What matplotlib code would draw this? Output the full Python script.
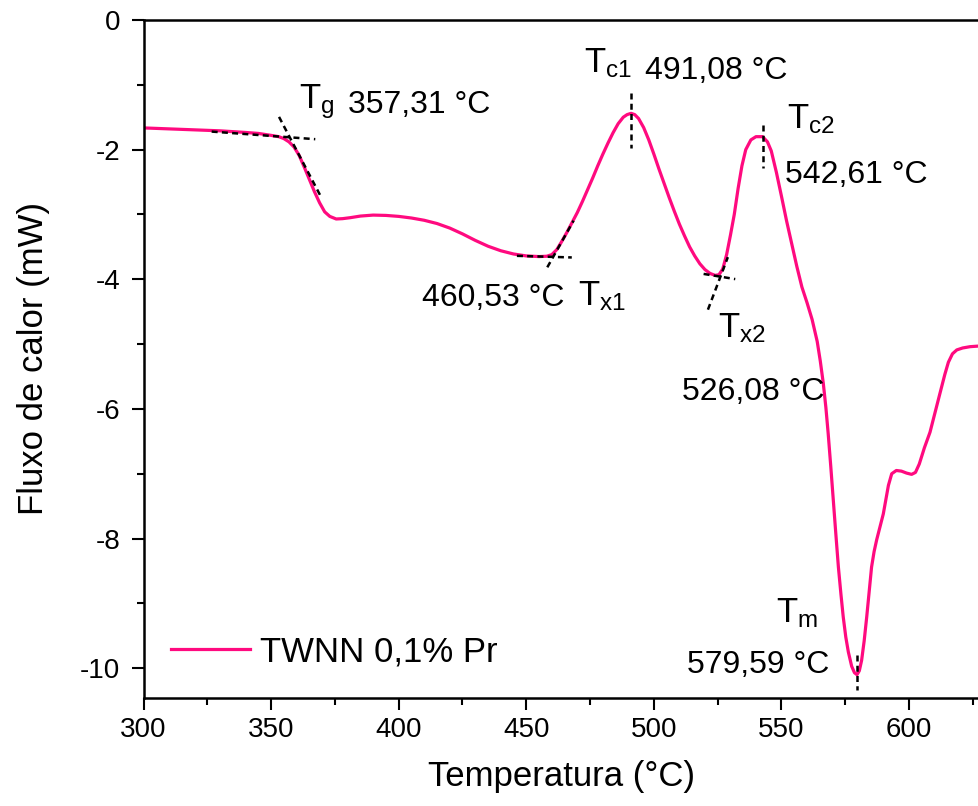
import matplotlib
matplotlib.use("Agg")
import matplotlib.pyplot as plt
from matplotlib.ticker import MultipleLocator

plt.rcParams['font.family'] = ['Liberation Sans', 'DejaVu Sans']
plt.rcParams['mathtext.fontset'] = 'custom'
plt.rcParams['mathtext.rm'] = 'Liberation Sans'

# DSC curve: temperature (°C) and heat flow (mW)
temperature = [
    300.0, 310.0, 320.0, 330.0, 340.0, 345.0, 350.0, 353.0, 355.0, 357.0,
    359.0, 361.0, 363.0, 365.0, 367.0, 369.0, 371.0, 373.0, 375.5, 378.0,
    381.0, 385.0, 390.0, 395.0, 400.0, 405.0, 410.0, 415.0, 420.0, 425.0,
    430.0, 435.0, 440.0, 445.0, 450.0, 455.0, 458.0, 460.0, 462.0, 464.0,
    466.0, 468.0, 470.0, 472.0, 474.0, 476.0, 478.0, 480.0, 482.0, 484.0,
    486.0, 488.0, 489.5, 491.08, 492.5, 494.0, 496.0, 498.0, 500.0, 502.0,
    504.0, 506.0, 508.0, 510.0, 512.0, 514.0, 516.0, 518.0, 520.0, 522.0,
    524.0, 525.5, 527.0, 528.5, 530.0, 531.5, 533.0, 534.5, 536.0, 538.0,
    540.0, 542.61, 544.5, 546.0, 548.0, 550.0, 552.0, 554.0, 556.0, 558.0,
    560.0, 562.0, 564.0, 565.2, 566.4, 567.4, 568.3, 569.3, 570.3, 571.3,
    572.3, 573.3, 574.2, 575.2, 576.2, 577.5, 578.6, 579.59, 580.5, 581.4,
    582.4, 583.4, 584.3, 585.3, 586.3, 587.3, 588.6, 589.9, 591.0, 591.9,
    593.2, 595.0, 597.0, 599.0, 601.0, 602.5, 604.0, 606.0, 608.2, 610.0,
    612.1, 614.0, 615.4, 617.0, 618.7, 621.0, 623.9, 627.4,
]
heat_flow = [
    -1.665, -1.68, -1.695, -1.71, -1.735, -1.75, -1.78, -1.80, -1.83, -1.88,
    -1.96, -2.09, -2.27, -2.46, -2.65, -2.82, -2.96, -3.03, -3.07, -3.065,
    -3.05, -3.025, -3.01, -3.015, -3.03, -3.055, -3.09, -3.14, -3.21, -3.30,
    -3.40, -3.49, -3.56, -3.61, -3.64, -3.65, -3.645, -3.62, -3.54, -3.41,
    -3.27, -3.12, -2.97, -2.80, -2.62, -2.44, -2.25, -2.07, -1.90, -1.74,
    -1.60, -1.50, -1.46, -1.44, -1.46, -1.52, -1.66, -1.85, -2.07, -2.30,
    -2.52, -2.74, -2.95, -3.15, -3.33, -3.50, -3.64, -3.76, -3.85, -3.91,
    -3.94, -3.93, -3.84, -3.62, -3.32, -3.00, -2.60, -2.25, -2.00, -1.85,
    -1.80, -1.80, -1.88, -2.02, -2.35, -2.72, -3.10, -3.45, -3.80, -4.12,
    -4.36, -4.62, -4.96, -5.26, -5.61, -5.98, -6.38, -6.88, -7.41, -7.93,
    -8.44, -8.86, -9.21, -9.52, -9.75, -9.97, -10.07, -10.10, -10.04, -9.88,
    -9.58, -9.21, -8.85, -8.44, -8.20, -8.02, -7.82, -7.62, -7.38, -7.18,
    -7.00, -6.95, -6.96, -6.99, -7.01, -6.98, -6.85, -6.60, -6.36, -6.08,
    -5.76, -5.47, -5.28, -5.15, -5.09, -5.06, -5.04, -5.03,
]

series_label = "TWNN 0,1% Pr"
x_ticks = [300, 350, 400, 450, 500, 550, 600]
y_ticks = [0, -2, -4, -6, -8, -10]

# Characteristic temperatures (°C)
T_g, T_x1, T_c1, T_x2, T_c2, T_m = 357.31, 460.53, 491.08, 526.08, 542.61, 579.59
# heat flow at the tangent intersections (onsets)
onset_flow = {"g": -1.81, "x1": -3.655, "x2": -3.96}

curve_color = "#FF0A7F"

fig = plt.figure(figsize=(9.79, 8.06), dpi=100)
ax = fig.add_axes([0.14658, 0.134, 0.85342, 0.8412])

ax.plot(temperature, heat_flow, color=curve_color, lw=2.3, label=series_label, zorder=2)

dash = dict(color="black", lw=1.8, ls=(0, (2.4, 1.7)), zorder=3)


def tangent(t0, v0, slope, left, right):
    ax.plot([t0 - left, t0 + right],
            [v0 - slope * left, v0 + slope * right], **dash)


# onset constructions (baseline + inflection tangents)
tangent(T_g, onset_flow["g"], -0.00289, 30.6, 10.0)
tangent(T_g, onset_flow["g"], -0.075, 4.2, 12.3)
tangent(T_x1, onset_flow["x1"], -0.00116, 14.2, 7.3)
tangent(T_x1, onset_flow["x1"], 0.0699, 2.3, 8.0)
tangent(T_x2, onset_flow["x2"], -0.00645, 6.6, 5.8)
tangent(T_x2, onset_flow["x2"], 0.1039, 4.9, 2.9)

# peak markers
ax.plot([T_c1, T_c1], [-1.13, -1.98], **dash)
ax.plot([T_c2, T_c2], [-1.62, -2.29], **dash)
ax.plot([T_m, T_m], [-9.80, -10.34], **dash)

sym_fs = 25
val_fs = 23


def fmt(t):
    return f"{t:.2f}".replace(".", ",") + " °C"


def sym(x, y, sub):
    ax.text(x, y, r"$\mathregular{T_{%s}}$" % sub, fontsize=sym_fs,
            ha="left", va="baseline")


def val(x, y, t):
    ax.text(x, y, fmt(t), fontsize=val_fs, ha="left", va="baseline")


sym(361.0, -1.36, "g")
val(380.0, -1.435, T_g)
sym(472.8, -0.80, "c1")
val(496.4, -0.91, T_c1)
sym(552.3, -1.667, "c2")
val(551.2, -2.515, T_c2)
val(409.3, -4.414, T_x1)
sym(470.4, -4.40, "x1")
sym(525.3, -4.89, "x2")
val(510.9, -5.864, T_x2)
sym(548.0, -9.29, "m")
val(512.9, -10.077, T_m)

ax.set_xlim(300, 627.4)
ax.set_ylim(-10.46, 0)
ax.set_xticks(x_ticks)
ax.set_yticks(y_ticks)
ax.set_yticklabels([str(v) for v in y_ticks])
ax.xaxis.set_minor_locator(MultipleLocator(25))
ax.yaxis.set_minor_locator(MultipleLocator(1))

for s in ("left", "bottom", "top"):
    ax.spines[s].set_linewidth(1.8)
ax.spines["right"].set_visible(False)

ax.tick_params(which="both", direction="out", top=False, right=False, width=1.5)
ax.tick_params(which="major", length=8.6, labelsize=20)
ax.tick_params(axis="x", which="major", pad=5)
ax.tick_params(axis="y", which="major", pad=8)
ax.tick_params(which="minor", length=5)

ax.set_xlabel("Temperatura (°C)", fontsize=25, labelpad=12)
ax.set_ylabel("Fluxo de calor (mW)", fontsize=25, labelpad=22)

ax.legend(loc="center left", bbox_to_anchor=(0.0329, 0.0678), frameon=False,
          fontsize=25, handlelength=2.28, handletextpad=0.29,
          borderpad=0, borderaxespad=0)

fig.savefig("out.png", dpi=100)
